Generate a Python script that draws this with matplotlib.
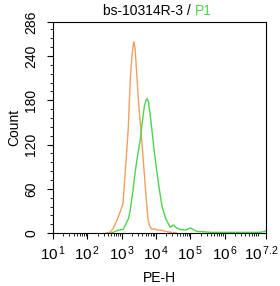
import matplotlib
matplotlib.use('Agg')
import matplotlib.pyplot as plt
import matplotlib.transforms as mtransforms
from matplotlib.ticker import FixedLocator, MultipleLocator
import numpy as np

plt.rcParams['font.family'] = ['Liberation Sans', 'DejaVu Sans']
plt.rcParams['mathtext.fontset'] = 'custom'
plt.rcParams['mathtext.rm'] = 'Liberation Sans'
plt.rcParams['mathtext.it'] = 'Liberation Sans'

# histogram traces, x as log10(PE-H), y as count
orange_logx = [2.55, 2.66, 2.75, 2.87, 2.95, 3.04, 3.1, 3.19, 3.25, 3.3, 3.34, 3.36, 3.39,
               3.44, 3.48, 3.54, 3.6, 3.64, 3.68, 3.73, 3.77, 3.82, 3.88, 3.95, 4.05,
               4.15, 4.3, 4.45, 4.6]
orange_cnt = [0, 1, 6, 18, 28, 40, 80, 140, 207, 240, 256, 259, 250,
              215, 185, 150, 117, 92, 68, 38, 18, 9, 5, 6, 4,
              4, 2, 1, 0]

green_logx = [2.7, 2.8, 2.9, 3.04, 3.12, 3.2, 3.25, 3.33, 3.4, 3.48, 3.54, 3.6, 3.66,
              3.71, 3.74, 3.78, 3.83, 3.88, 3.95, 4.03, 4.1, 4.18, 4.28, 4.41, 4.5,
              4.6, 4.7, 4.85, 5.0, 5.08, 5.2, 5.35, 5.6, 5.9, 6.2, 6.5, 6.8, 7.0, 7.15, 7.2]
green_cnt = [0, 2, 4, 5, 12, 20, 31, 58, 85, 110, 126, 150, 172,
             180, 182, 178, 160, 140, 110, 81, 58, 35, 20, 8, 11,
             7, 5, 4, 7, 5, 2, 2, 1, 1, 1, 1, 1, 1, 2, 3]

x_ticks = [1, 2, 3, 4, 5, 6, 7.2]
x_exps = ['1', '2', '3', '4', '5', '6', '7.2']

fig = plt.figure(figsize=(2.8, 2.86), dpi=100)
ax = fig.add_axes([0.189, 0.185, 0.761, 0.738])

ax.plot(orange_logx, orange_cnt, color='#f0a060', lw=1.0)
ax.plot(green_logx, green_cnt, color='#4cd44c', lw=1.0)

ax.set_xlim(1, 7.2)
ax.set_ylim(0, 286)

ax.xaxis.set_major_locator(FixedLocator(x_ticks))
ax.set_xticklabels([r'$10^{\,%s}$' % e for e in x_exps], fontsize=11)
minor = []
for d in range(1, 8):
    for m in range(2, 10):
        v = d + np.log10(m)
        if v < 7.2:
            minor.append(v)
ax.xaxis.set_minor_locator(FixedLocator(minor))

ax.set_yticks([0, 60, 120, 180, 240, 286])
ax.yaxis.set_minor_locator(MultipleLocator(12))
for lab in ax.get_yticklabels():
    lab.set_rotation(90)
    lab.set_va('center')
ax.tick_params(axis='y', labelsize=10, pad=6)
ax.tick_params(which='major', length=4.5, width=0.8, direction='out')
ax.tick_params(which='minor', length=2, width=0.6, direction='out')

for s in ax.spines.values():
    s.set_linewidth(0.8)

# last label sits against the right edge, nudge it left
last = ax.get_xticklabels()[-1]
last.set_transform(last.get_transform() +
                   mtransforms.ScaledTranslation(-0.05, 0, fig.dpi_scale_trans))

ax.set_xlabel('PE-H', fontsize=10, labelpad=6)
ax.set_ylabel('Count', fontsize=10, labelpad=2)

fig.text(0.695, 0.96, 'bs-10314R-3 / ', ha='right', va='center', fontsize=10)
fig.text(0.695, 0.96, 'P1', ha='left', va='center', fontsize=10, color='#4cd44c')

fig.savefig('out.png', dpi=100)
